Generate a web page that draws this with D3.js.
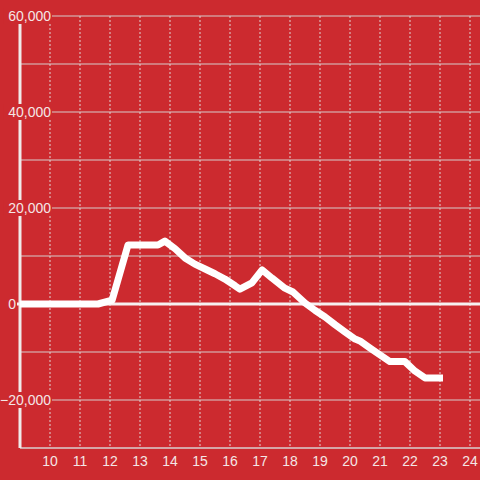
<!DOCTYPE html>
<html>
<head>
<meta charset="utf-8">
<script src="https://cdn.jsdelivr.net/npm/d3@7"></script>
<style>
    html, body { margin: 0; padding: 0; background: #cc2a2f; }
    svg { display: block; }
    .tick_label { font-family: "Liberation Sans", Arial, sans-serif; font-size: 14px; fill: #f4e6e6; }
</style>
</head>
<body>
<script>
// hours of the day along x, running total along y
const hours = [9, 11.6, 12.07, 12.6, 13.6, 13.83, 14.17, 14.5, 14.83, 15.17, 15.5, 15.83,
    16.17, 16.33, 16.73, 17.07, 17.4, 17.83, 18.1, 18.5, 18.83, 19.17, 19.5, 19.83,
    20.17, 20.33, 20.67, 21.0, 21.33, 21.83, 22.17, 22.5, 23.1];
const totals = [0, 0, 800, 12300, 12300, 13100, 11500, 9600, 8300, 7300, 6300, 5200,
    3800, 3100, 4400, 7100, 5400, 3300, 2500, 200, -1300, -2700, -4300, -5800,
    -7300, -7700, -9200, -10600, -12000, -12000, -14000, -15400, -15400];
const xTicks = [10, 11, 12, 13, 14, 15, 16, 17, 18, 19, 20, 21, 22, 23, 24];
const yTicks = [60000, 40000, 20000, 0, -20000];
const yGrid = [60000, 50000, 40000, 30000, 20000, 10000, -10000, -20000];

const width = 480, height = 480;
const bg = "#cc2a2f";

const x = d3.scaleLinear().domain([9, 24]).range([20, 470]);
const y = d3.scaleLinear().domain([-30000, 60000]).range([448, 16]);

const svg = d3.select("body").append("svg")
    .attr("width", width)
    .attr("height", height);

svg.append("rect")
    .attr("width", width).attr("height", height)
    .attr("fill", bg);

// horizontal grid
svg.append("g").selectAll("line")
    .data(yGrid)
    .join("line")
    .attr("x1", x(9)).attr("x2", width)
    .attr("y1", d => y(d)).attr("y2", d => y(d))
    .attr("stroke", "#d6cccc")
    .attr("stroke-width", 1);

// vertical dashed grid
svg.append("g").selectAll("line")
    .data(xTicks)
    .join("line")
    .attr("x1", d => x(d)).attr("x2", d => x(d))
    .attr("y1", y(60000)).attr("y2", y(-30000))
    .attr("stroke", "#e0d4d4")
    .attr("stroke-width", 1)
    .attr("stroke-dasharray", "2,2");

// bottom axis line
svg.append("line")
    .attr("x1", x(9)).attr("x2", width)
    .attr("y1", y(-30000)).attr("y2", y(-30000))
    .attr("stroke", "#d8d0d0")
    .attr("stroke-width", 1.5);

// y axis line
svg.append("line")
    .attr("x1", x(9)).attr("x2", x(9))
    .attr("y1", y(60000)).attr("y2", y(-30000))
    .attr("stroke", "#f0eaea")
    .attr("stroke-width", 3);

// zero line
svg.append("line")
    .attr("x1", 17).attr("x2", width)
    .attr("y1", y(0)).attr("y2", y(0))
    .attr("stroke", "#f6f0f0")
    .attr("stroke-width", 3);

// y labels with a background box so they cut the grid
const fmt = d3.format(",");
const yLab = svg.append("g").selectAll("g")
    .data(yTicks)
    .join("g")
    .attr("transform", d => `translate(${d === 0 ? 16 : 51},${y(d)})`);
yLab.filter(d => d !== 0).append("rect")
    .attr("x", d => -fmt(d).length * 7.6 - 2)
    .attr("y", -8)
    .attr("width", d => fmt(d).length * 7.6 + 3)
    .attr("height", 16)
    .attr("fill", bg);
yLab.append("text")
    .attr("class", "tick_label")
    .attr("text-anchor", "end")
    .attr("dy", "0.36em")
    .text(d => fmt(d));

// x labels
svg.append("g").selectAll("text")
    .data(xTicks)
    .join("text")
    .attr("class", "tick_label")
    .attr("text-anchor", "middle")
    .attr("x", d => x(d))
    .attr("y", 466)
    .text(d => d);

// the series
const line = d3.line()
    .x((d, i) => x(hours[i]))
    .y(d => y(d));
svg.append("path")
    .datum(totals)
    .attr("d", line)
    .attr("fill", "none")
    .attr("stroke", "#ffffff")
    .attr("stroke-width", 7)
    .attr("stroke-linejoin", "round");
</script>
</body>
</html>
